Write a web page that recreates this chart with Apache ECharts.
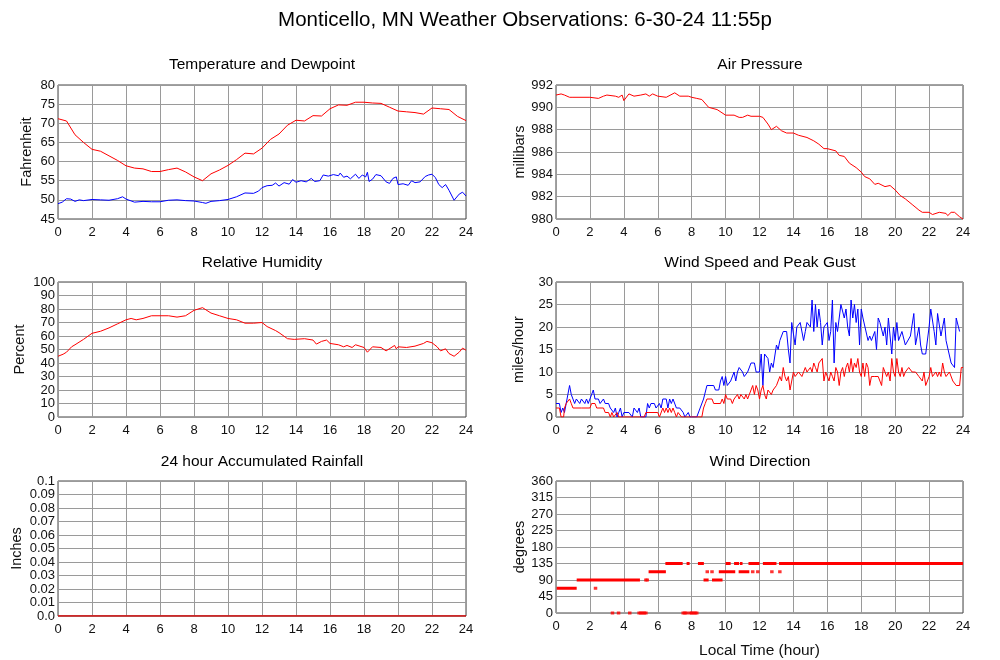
<!DOCTYPE html>
<html>
<head>
<meta charset="utf-8">
<script src="https://cdn.jsdelivr.net/npm/echarts@6/dist/echarts.min.js"></script>
<style>html,body{margin:0;padding:0;background:#fff}#c{width:1000px;height:660px}</style>
</head>
<body>
<div id="c"></div>
<script>
// ---------- DATA ----------
const xTicks = [0,2,4,6,8,10,12,14,16,18,20,22,24];

const tempHours = [0,0.5,1,1.5,2,2.5,3,3.5,4,4.5,5,5.5,6,6.5,7,7.5,8,8.5,9,9.5,10,10.5,11,11.5,12,12.5,13,13.5,14,14.5,15,15.5,16,16.5,17,17.5,18,18.5,19,19.5,20,20.5,21,21.5,22,22.5,23,23.5,24];
const tempVals  = [71.2,70.6,67,65,63.2,62.7,61.5,60.3,58.9,58.3,58.1,57.4,57.4,57.9,58.3,57.3,56.0,55.0,56.8,57.8,59.0,60.5,62.2,62.0,63.5,65.8,67.2,69.5,70.8,70.6,72.0,71.9,73.8,74.8,74.7,75.5,75.5,75.3,75.2,74.2,73.2,73.0,72.8,72.4,74.0,73.8,73.6,71.8,70.7];

const dewHours = [0,0.25,0.5,0.6,0.75,1,1.25,1.5,2,2.5,3,3.5,3.8,4,4.5,5,5.5,6,6.5,7,7.5,8,8.5,8.7,9,9.5,10,10.5,11,11.5,11.8,12,12.3,12.6,12.8,13,13.3,13.6,13.8,14,14.3,14.6,14.9,15.1,15.4,15.6,15.9,16.2,16.5,16.6,16.8,17,17.2,17.5,17.7,17.9,18.1,18.2,18.3,18.5,18.7,19,19.3,19.5,19.7,19.9,20,20.3,20.6,20.8,21,21.3,21.6,21.8,22,22.2,22.4,22.6,22.8,23,23.3,23.6,23.8,24];
const dewVals  = [49.0,49.4,50.3,50.8,50.2,49.6,50.0,49.8,50.1,50.0,49.9,50.3,50.8,50.2,49.4,49.6,49.5,49.5,49.9,50.0,49.8,49.7,49.3,49.1,49.6,49.8,50.1,50.8,51.8,51.7,52.3,53.2,53.7,53.8,54.4,53.6,54.5,54.1,55.3,54.6,55.0,54.7,55.6,54.8,55.0,56.5,56.2,56.6,56.3,57.0,55.9,56.2,55.5,56.7,55.6,56.5,56.0,57.2,54.8,55.4,56.6,56.3,54.7,54.3,55.6,56.0,54.0,54.2,53.8,55.0,54.5,54.7,56.1,56.5,56.7,55.8,54.0,53.2,54.0,52.5,49.9,51.5,52.0,51.0];

const presHours = [0,0.3,0.5,0.8,1,2,2.5,2.8,3,3.5,3.7,3.9,4,4.3,4.6,5,5.3,5.5,5.7,6,6.5,7,7.3,7.8,8,8.3,8.6,9,9.5,10,10.5,10.8,11,11.3,11.5,12,12.2,12.5,12.7,13,13.3,13.6,14,14.3,14.8,15.2,15.5,15.8,16,16.5,16.7,17,17.3,17.7,18,18.2,18.5,18.8,19,19.4,19.7,20,20.3,20.6,21,21.4,21.6,22,22.2,22.6,23,23.1,23.3,23.5,23.8,24];
const presVals  = [991.1,991.2,991.1,990.9,990.9,990.9,990.8,991.0,991.1,991.0,990.9,991.1,990.6,991.2,991.0,991.1,991.2,991.0,991.2,991.0,990.9,991.3,991.0,991.0,990.9,990.8,990.7,990.0,989.8,989.3,989.3,989.1,989.1,989.3,989.2,989.2,989.1,988.5,988.0,988.3,987.9,987.7,987.7,987.5,987.3,987.0,986.7,986.3,986.3,986.1,985.7,985.6,985.0,984.6,984.2,983.8,983.6,983.1,983.2,982.9,983.0,982.6,982.1,981.8,981.3,980.8,980.6,980.6,980.4,980.6,980.5,980.3,980.6,980.6,980.2,980.0];

const rhHours = [0,0.3,0.5,0.8,1,1.5,2,2.5,3,3.5,4,4.3,4.6,5,5.5,6,6.5,7,7.5,8,8.5,9,9.5,10,10.5,11,11.5,12,12.3,12.8,13,13.5,13.9,14,14.5,15,15.2,15.5,15.8,16,16.5,16.8,17,17.3,17.5,18,18.2,18.5,19,19.3,19.8,19.9,20,20.5,21,21.5,21.7,22,22.3,22.5,22.8,23,23.3,23.6,23.8,24];
const rhVals  = [45,46.5,48,52,53.5,57.5,62,63.5,66,69,72,73,72,73,75,75,75,74,75,79,81,77,75,73,72,69.5,69.5,70,67,64,62.5,58,57.5,56.5,58,57,54,56,57,54.5,53.5,52,53,51.5,53.5,51.5,48,52,51.5,49,53,50.5,52,51.5,52.5,54.5,56,55,52,49,50.5,47,45,48,51,49.5];

const gustHours = [0,0.2,0.3,0.4,0.5,0.6,0.7,0.8,0.9,1.0,1.1,1.2,1.4,1.5,1.7,1.8,1.9,2.0,2.1,2.2,2.3,2.5,2.6,2.8,2.9,3.1,3.2,3.4,3.5,3.6,3.7,3.8,3.9,4.0,4.3,4.5,4.6,4.8,4.9,5.0,5.3,5.4,5.5,5.6,5.8,5.9,6.1,6.2,6.3,6.5,6.6,6.7,6.8,6.9,7.0,7.1,7.3,7.5,7.6,7.8,7.9,8.3,8.5,8.6,8.7,8.9,9.3,9.4,9.6,9.7,9.8,9.9,10.0,10.1,10.3,10.5,10.6,10.7,10.8,11.0,11.1,11.3,11.5,11.7,11.8,12.0,12.1,12.2,12.3,12.5,12.6,12.7,12.8,13.0,13.1,13.2,13.4,13.6,13.7,13.8,13.9,14.0,14.1,14.2,14.4,14.5,14.6,14.7,14.8,15.0,15.1,15.2,15.3,15.4,15.5,15.6,15.7,15.8,16.0,16.1,16.2,16.3,16.4,16.5,16.6,16.7,16.8,16.9,17.0,17.1,17.2,17.3,17.4,17.5,17.6,17.7,17.8,17.9,18.0,18.1,18.2,18.4,18.5,18.6,18.8,18.9,19.0,19.1,19.2,19.3,19.4,19.5,19.6,19.7,19.8,19.9,20.0,20.1,20.2,20.4,20.6,20.9,21.1,21.2,21.4,21.5,21.6,21.8,22.0,22.1,22.3,22.4,22.5,22.7,22.9,23.0,23.1,23.3,23.5,23.6,23.7,23.8,23.9,24];
const gustVals  = [3,3,1,2,1,3,5,7,5,5,3,4,3,4,3,4,3,4,4,6,4,4,3,4,3,3,2,1,2,0,1,2,0,1,1,0,2,1,2,0,0,3,2,3,3,2,3,2,4,4,2,4,3,4,4,2,2,1,0,1,0,0,2,2,4,7,7,6,6,8,9,7,9,7,8,10,8,10,11,10,9,10,12,12,10,10,14,7,14,13,10,12,11,16,15,17,19,19,15,12,21,21,16,20,21,21,17,19,21,20,26,19,25,20,24,21,16,20,21,17,19,26,12,21,19,19,25,25,22,24,20,18,26,22,25,21,24,16,24,22,22,17,18,17,19,15,22,21,21,18,20,16,22,18,14,20,17,21,17,19,16,18,23,16,20,16,14,14,20,24,19,16,23,18,22,17,17,12,11,22,22,19];

const windHours = [0,0.2,0.3,0.45,0.5,0.6,0.8,0.9,1.0,1.5,2.0,2.1,2.3,2.4,2.8,2.9,3.1,3.2,3.3,3.4,3.6,3.7,5.2,5.3,6.0,6.1,6.3,6.4,6.5,6.6,6.7,6.8,6.9,7.0,7.1,7.2,7.4,8.6,8.7,8.8,8.9,9.2,9.3,9.7,9.8,9.9,10.0,10.1,10.3,10.4,10.5,10.7,10.8,10.9,11.1,11.2,11.3,11.5,11.6,11.7,11.8,11.9,12.0,12.1,12.2,12.3,12.4,12.5,12.7,12.8,13.0,13.2,13.3,13.4,13.5,13.6,13.7,13.8,13.9,14.0,14.1,14.3,14.5,14.6,14.7,14.8,15.0,15.1,15.2,15.3,15.4,15.5,15.6,15.7,15.8,15.9,16.0,16.1,16.2,16.3,16.4,16.5,16.6,16.7,16.8,16.9,17.0,17.1,17.2,17.3,17.4,17.5,17.6,17.7,17.8,17.9,18.0,18.1,18.2,18.3,18.4,18.5,18.6,18.8,19.0,19.1,19.2,19.3,19.4,19.5,19.6,19.7,19.8,19.9,20.0,20.1,20.2,20.3,20.4,20.5,20.6,20.8,21.0,21.2,21.4,21.6,21.7,21.8,22.0,22.1,22.2,22.4,22.5,22.6,22.7,22.8,22.9,23.0,23.2,23.4,23.6,23.8,23.9,24];
const windVals  = [2,2,0,0,2,3,4,3,2,2,2,3,3,2,2,1,1,0,1,0,1,0,0,1,1,0,2,1,2,1,2,1,2,1,0,1,0,0,2,3,4,4,3,3,4,3,5,4,4,3,4,5,4,5,4,5,4,6,7,5,7,6,4,6,7,5,4,6,5,6,7,9,8,11,9,8,9,6,6,10,9,10,9,10,11,10,11,10,12,11,10,12,12,13,8,10,9,8,10,9,8,11,10,7,10,11,9,11,12,10,13,10,12,11,13,10,9,12,9,12,11,7,9,9,9,8,7,11,11,9,10,8,13,10,9,13,10,9,11,9,10,11,10,10,9,8,10,7,9,11,9,10,9,10,9,12,10,9,10,8,7,7,11,11];

// wind direction: continuous runs (start hour, end hour, degrees) and isolated observations
const dirRunStart = [0.04,1.22,5.46,6.45,7.7,8.37,8.7,9.2,9.6,10.0,10.5,10.85,10.77,11.35,12.2,13.15];
const dirRunEnd   = [1.22,4.95,6.48,7.47,7.88,8.72,9.0,9.82,10.57,10.3,10.8,11.0,11.4,12.0,13.0,24.0];
const dirRunDeg   = [67.5,90,112.5,135,135,135,90,90,112.5,135,135,135,112.5,135,135,135];
const dirDotHours = [2.33,5.3,5.38,3.33,3.69,4.35,4.9,5.0,5.1,5.2,5.3,7.5,7.6,7.7,7.9,8.0,8.1,8.2,8.3,8.92,9.2,11.6,11.9,12.73,13.2];
const dirDotDeg   = [67.5,90,90,0,0,0,0,0,0,0,0,0,0,0,0,0,0,0,0,112.5,112.5,112.5,112.5,112.5,112.5];

const rainHours = [0,24];
const rainVals  = [0,0];

// ---------- BUILD ----------
const zip = (xs, ys) => xs.map((x, i) => [x, ys[i]]);
const runData = [];
dirRunStart.forEach((s, i) => { runData.push([s, dirRunDeg[i]], [dirRunEnd[i], dirRunDeg[i]], null); });

const FONT = '"Liberation Sans", Arial, Helvetica, sans-serif';
const grids = [
  {left:58, top:85, width:408, height:134},
  {left:556, top:85, width:407, height:134},
  {left:58, top:282, width:408, height:135},
  {left:556, top:282, width:407, height:135},
  {left:58, top:481, width:408, height:135},
  {left:556, top:481, width:407, height:135}
].map(g => Object.assign({show:true, borderColor:'#444', borderWidth:1, backgroundColor:'#fff'}, g));

const splitLine = {show:true, lineStyle:{color:'#9a9a9a', width:1}};
const xAxes = grids.map((g, i) => ({
  type:'value', gridIndex:i, min:0, max:24, interval:2,
  axisLine:{show:false}, axisTick:{show:false}, splitLine,
  axisLabel:{color:'#111', fontSize:13, fontFamily:FONT, margin:7},
  name: i === 5 ? 'Local Time (hour)' : '', nameLocation:'middle', nameGap:30,
  nameTextStyle:{color:'#111', fontSize:15.5, fontFamily:FONT}
}));
function yAx(i, min, max, interval, name, gap, fmt) {
  return {type:'value', gridIndex:i, min, max, interval,
    axisLine:{show:false}, axisTick:{show:false}, splitLine,
    axisLabel:{color:'#111', fontSize:13, fontFamily:FONT, margin:3, formatter: fmt},
    name, nameLocation:'middle', nameGap:gap, nameRotate:90,
    nameTextStyle:{color:'#111', fontSize:14.5, fontFamily:FONT}};
}
const rainFmt = v => v === 0 ? '0.0' : String(Math.round(v * 100) / 100);
const yAxes = [
  yAx(0, 45, 80, 5, 'Fahrenheit', 24),
  yAx(1, 980, 992, 2, 'millibars', 27),
  yAx(2, 0, 100, 10, 'Percent', 31),
  yAx(3, 0, 30, 5, 'miles/hour', 30),
  yAx(4, 0, 0.1, 0.01, 'Inches', 34, rainFmt),
  yAx(5, 0, 360, 45, 'degrees', 29)
];

function line(i, data, color, z) {
  return {type:'line', xAxisIndex:i, yAxisIndex:i, data, showSymbol:false, symbol:'none',
    lineStyle:{color, width:1}, z: z || 2, silent:true};
}
const series = [
  line(0, zip(tempHours, tempVals), '#ff0000'),
  line(0, zip(dewHours, dewVals), '#0000ff'),
  line(1, zip(presHours, presVals), '#ff0000'),
  line(2, zip(rhHours, rhVals), '#ff0000'),
  line(3, zip(gustHours, gustVals), '#0000ff'),
  line(3, zip(windHours, windVals), '#ff0000', 3),
  Object.assign(line(4, zip(rainHours, rainVals), '#dd0000'), {lineStyle:{color:'#dd0000', width:1.5}}),
  {type:'line', xAxisIndex:5, yAxisIndex:5, data:runData, showSymbol:false, symbol:'none', connectNulls:false,
    lineStyle:{color:'#ff0000', width:3}, silent:true},
  {type:'scatter', xAxisIndex:5, yAxisIndex:5, data:zip(dirDotHours, dirDotDeg), symbol:'rect', symbolSize:[3.5,3],
    itemStyle:{color:'#ff0000'}, silent:true}
];

const titles = [
  ['Temperature and Dewpoint', 262, 65],
  ['Air Pressure', 760, 65],
  ['Relative Humidity', 262, 263],
  ['Wind Speed and Peak Gust', 760, 263],
  ['24 hour Accumulated Rainfall', 262, 462],
  ['Wind Direction', 760, 462]
];
const graphic = [{type:'text', x:525, y:20, style:{text:'Monticello, MN Weather Observations: 6-30-24 11:55p',
  fill:'#000', font:'20.5px ' + FONT, textAlign:'center', textVerticalAlign:'middle'}}]
  .concat(titles.map(t => ({type:'text', x:t[1], y:t[2], style:{text:t[0], fill:'#000',
    font:'15.5px ' + FONT, textAlign:'center', textVerticalAlign:'middle'}})));

const chart = echarts.init(document.getElementById('c'), null, {renderer:'canvas'});
chart.setOption({animation:false, backgroundColor:'#fff', grid:grids, xAxis:xAxes, yAxis:yAxes, series, graphic});
</script>
</body>
</html>
